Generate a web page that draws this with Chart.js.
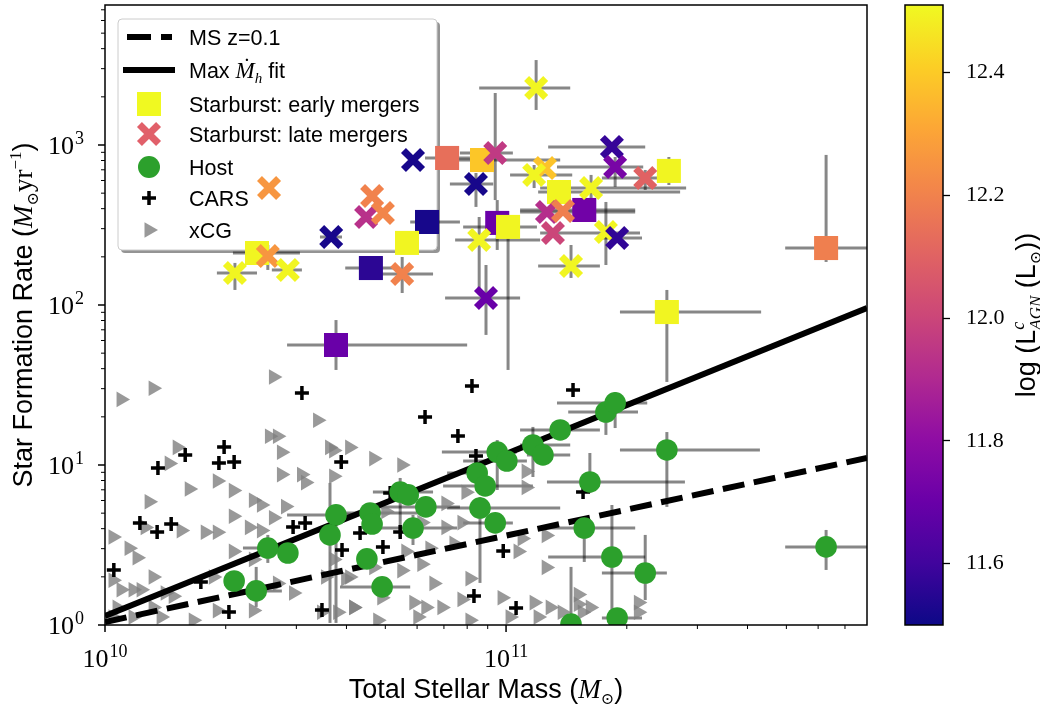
<!DOCTYPE html>
<html>
<head>
<meta charset="utf-8">
<script src="https://cdn.jsdelivr.net/npm/chart.js@4.4.0/dist/chart.umd.min.js"></script>
<style>
  html, body { margin: 0; padding: 0; background: #fff; }
  #wrap { position: relative; width: 1040px; height: 706px; }
  #main { position: absolute; left: 0; top: 0; }
  #cbar { position: absolute; left: 880px; top: 0; }
</style>
</head>
<body>
<div id="wrap">
  <canvas id="main" width="880" height="706" style="width:880px;height:706px"></canvas>
  <canvas id="cbar" width="160" height="706" style="width:160px;height:706px"></canvas>
</div>
<script>
'use strict';

// ---- values (log10 of stellar mass, SFR and L_AGN) ----

// Starburst: early mergers (squares)
const earlyLogM   = [10.853, 10.940, 10.803, 10.753, 10.379, 10.663, 10.576, 10.978, 11.005, 11.132, 11.195, 11.406, 11.401, 11.798];
const earlyLogSFR = [2.919, 2.906, 2.519, 2.388, 2.325, 2.231, 1.750, 2.513, 2.488, 2.706, 2.594, 2.838, 1.956, 2.356];
const earlyLogL   = [12.14, 12.39, 11.52, 12.50, 12.50, 11.56, 11.70, 11.70, 12.50, 12.50, 11.72, 12.50, 12.50, 12.19];
// [mass lo, mass hi, sfr lo, sfr hi]
const earlyErr = [
  [10.798, 10.910, null, null], [10.848, 11.135, null, null], [10.761, 10.885, null, null], null,
  [10.319, 10.486, null, null], [10.599, 10.723, null, null], [10.454, 10.903, 1.594, 1.906],
  [null, null, 2.344, 2.656], [10.893, 11.077, 1.594, 2.550], [11.080, 11.434, null, null],
  [11.035, 11.322, null, null], [null, null, 2.750, 2.925], [11.284, 11.636, 1.519, 2.094],
  [11.696, 11.980, 2.269, 2.938],
];

// Starburst: late mergers (X)
const lateLogM   = [11.075, 10.768, 10.973, 10.925, 11.097, 11.070, 11.264, 11.272, 11.347, 11.212, 11.102, 11.142, 11.117, 11.249,
                    11.277, 11.162, 10.933, 10.950, 10.409, 10.666, 10.651, 10.693, 10.564, 10.406, 10.324, 10.456, 10.741];
const lateLogSFR = [3.356, 2.906, 2.950, 2.756, 2.856, 2.813, 2.988, 2.863, 2.794, 2.731, 2.581, 2.588, 2.450, 2.456,
                    2.419, 2.244, 2.406, 2.044, 2.731, 2.681, 2.550, 2.575, 2.425, 2.306, 2.200, 2.219, 2.194];
const lateLogL   = [12.50, 11.52, 11.96, 11.52, 12.38, 12.50, 11.58, 11.74, 12.10, 12.50, 11.92, 12.19, 12.00, 12.50,
                    11.57, 12.50, 12.50, 11.70, 12.26, 12.20, 11.93, 12.21, 11.52, 12.26, 12.50, 12.50, 12.20];
const lateErr = [
  [10.933, 11.160, 3.219, 3.531], null, [10.885, 11.017, 2.656, 3.325], [10.860, 10.968, 2.613, 2.825], null,
  [11.010, 11.165, 2.731, 2.875], [11.105, 11.347, null, null], [11.127, 11.342, 2.738, 2.925],
  [11.239, 11.401, 2.719, 2.844], [11.085, 11.449, 2.656, 2.813], [11.035, 11.322, null, null], null,
  [11.085, 11.334, null, null], [null, null, 2.250, 2.644], [11.234, 11.339, null, null],
  [11.080, 11.234, 2.169, 2.375], [10.873, 11.085, 2.094, 2.550], [10.848, 11.035, 1.813, 2.250],
  null, null, null, null, [10.536, 10.591, null, null], [null, null, 2.219, 2.375],
  [10.279, 10.379, 2.094, 2.263], [10.416, 10.491, null, null], [10.686, 10.818, 2.075, 2.300],
];

// Host galaxies (green circles)
const hostLogM   = [10.576, 10.561, 10.406, 10.456, 10.322, 10.377, 10.661, 10.666, 10.736, 10.756, 10.800, 10.768, 10.653, 10.691,
                    10.928, 10.948, 10.935, 10.973, 10.978, 11.002, 11.067, 11.092, 11.135, 11.209, 11.195, 11.249, 11.272, 11.401,
                    11.264, 11.347, 11.277, 11.162, 11.798];
const hostLogSFR = [0.688, 0.563, 0.481, 0.450, 0.275, 0.213, 0.700, 0.631, 0.831, 0.813, 0.738, 0.606, 0.413, 0.238,
                    0.950, 0.869, 0.731, 0.638, 1.081, 1.025, 1.125, 1.063, 1.219, 0.894, 0.606, 1.331, 1.388, 1.094,
                    0.425, 0.325, 0.044, 0.006, 0.488];
const hostErr = [
  [10.454, 10.623, 0.013, 0.700], [null, null, 0.013, 0.888], [10.344, 10.441, 0.388, 0.563], null, null,
  [10.332, 10.441, 0.113, 0.363], [10.591, 10.810, null, null], null, [10.668, 10.818, 0.550, 0.919], null,
  [10.686, 10.885, null, null], [10.678, 10.878, 0.500, 0.688], null, [10.586, 10.761, null, null],
  [10.853, 10.953, null, null], [10.843, 11.067, null, null], [10.853, 11.135, 0.263, 0.800],
  [10.893, 11.017, null, null], [10.840, 11.027, 0.844, 1.156], [10.893, 11.052, null, null],
  [11.035, 11.160, 0.925, 1.238], [11.052, 11.160, null, null], [11.035, 11.234, null, null],
  [11.102, 11.446, 0.825, 1.075], [11.102, 11.322, 0.394, 0.675], [11.155, 11.329, 1.188, 1.344],
  [11.127, 11.352, 1.231, 1.456], [11.284, 11.633, 0.738, 1.206], [11.105, 11.347, 0.013, 0.750],
  [11.239, 11.401, 0.156, 0.563], [11.239, 11.339, null, null], [null, null, -0.100, 0.363],
  [11.696, 11.980, 0.344, 0.594],
];

// CARS (black plus)
const carsLogM   = [10.491, 10.297, 10.284, 10.322, 10.200, 10.132, 10.589, 10.087, 10.130, 10.165, 10.469, 10.499, 10.591, 10.022, 10.239,
                    10.309, 10.541, 10.915, 10.798, 10.880, 11.167, 10.925, 10.636, 10.736, 10.693, 10.993, 10.920, 11.025, 10.711, 11.192];
const carsLogSFR = [1.450, 1.113, 1.013, 1.019, 1.063, 0.981, 1.019, 0.638, 0.581, 0.631, 0.613, 0.638, 0.469, 0.344, 0.269,
                    0.081, 0.094, 1.494, 1.300, 1.181, 1.469, 1.056, 0.575, 0.581, 0.488, 0.463, 0.181, 0.106, 0.825, 0.831];

// xCG (grey triangles)
const xcgLogM = [10.04, 10.12, 10.42, 10.53, 10.41, 10.43, 10.18, 10.16, 10.44, 10.57, 10.61, 10.28, 10.32, 10.21, 10.44, 10.49, 10.50, 10.57,
                 10.11, 10.37, 10.39, 10.32, 10.45, 10.42, 10.02, 10.06, 10.08, 10.10, 10.19, 10.25, 10.28, 10.36, 10.39, 10.32, 10.37, 10.02,
                 10.04, 10.07, 10.09, 10.12, 10.15, 10.03, 10.12, 10.14, 10.17, 10.22, 10.28, 10.37, 10.47, 10.27, 10.55, 10.57, 10.61, 10.43,
                 10.54, 10.58, 10.62, 10.02, 10.07,
                 10.67, 10.74, 10.59, 10.70, 10.85, 10.90, 11.05, 11.05, 10.79, 10.85, 10.89, 11.04, 11.10, 10.75, 10.81, 10.87, 10.79, 10.74,
                 10.67, 10.60, 10.82, 10.91, 11.03, 11.10, 10.62, 10.69, 10.77, 10.80, 10.84, 10.89, 10.99, 11.07, 11.11, 11.18, 11.18, 10.68,
                 10.78, 10.91, 11.01, 11.08, 11.14, 11.19, 11.21, 11.33, 11.33, 10.56];
const xcgLogSFR = [1.41, 1.48, 1.55, 1.28, 1.18, 1.18, 1.11, 1.01, 1.08, 1.09, 1.11, 0.90, 0.84, 0.85, 0.94, 0.94, 0.89, 0.93,
                   0.77, 0.78, 0.75, 0.68, 0.74, 0.67, 0.55, 0.48, 0.42, 0.61, 0.59, 0.58, 0.58, 0.61, 0.59, 0.46, 0.41, 0.28,
                   0.22, 0.22, 0.22, 0.30, 0.20, 0.11, 0.11, 0.05, 0.18, 0.03, 0.09, 0.09, 0.20, 0.30, 0.30, 0.41, 0.30, 0.26,
                   0.08, 0.08, 0.11, 0.05, 0.05,
                   1.04, 1.00, 0.68, 0.71, 0.76, 0.83, 0.86, 0.96, 0.64, 0.61, 0.64, 0.54, 0.56, 0.46, 0.48, 0.51, 0.38, 0.34,
                   0.36, 0.29, 0.26, 0.29, 0.46, 0.36, 0.11, 0.17, 0.14, 0.11, 0.11, 0.16, 0.17, 0.14, 0.11, 0.19, 0.13, 0.03,
                   0.05, 0.03, 0.05, 0.05, 0.08, 0.08, 0.11, 0.14, 0.08, 1.11];

// Relations
const msLogM = [10, 11.9];
const msLogSFR = [0.019, 1.044];     // MS z=0.1
const fitLogM = [10, 11.9];
const fitLogSFR = [0.056, 1.981];    // Max Mdot_h fit

// Axes
const xLogRange = [10, 11.9];
const yLogRange = [0, 3.875];
const xTickPowers = [10, 11];
const yTickPowers = [0, 1, 2, 3];
const cbMin = 11.5, cbMax = 12.51;
const cbTicks = [11.6, 11.8, 12.0, 12.2, 12.4];

// plasma colormap
const PLASMA = ['#0d0887', '#41049d', '#6a00a8', '#8f0da4', '#b12a90', '#cc4778',
                '#e16462', '#f2844b', '#fca636', '#fcce25', '#f0f921'];

const SANS = '"Liberation Sans", Arial, Helvetica, sans-serif';
const SERIF = '"Liberation Serif", "DejaVu Serif", serif';

const pow10 = v => Math.pow(10, v);

function hexRgb(h) {
  return [1, 3, 5].map(i => parseInt(h.substr(i, 2), 16));
}
function plasma(v) {
  const t = Math.min(1, Math.max(0, (v - cbMin) / (cbMax - cbMin))) * (PLASMA.length - 1);
  const i = Math.min(PLASMA.length - 2, Math.floor(t));
  const f = t - i;
  const a = hexRgb(PLASMA[i]), b = hexRgb(PLASMA[i + 1]);
  const c = a.map((x, k) => Math.round(x + (b[k] - x) * f));
  return `rgb(${c[0]},${c[1]},${c[2]})`;
}

const pts = (lm, ls) => lm.map((m, i) => ({ x: pow10(m), y: pow10(ls[i]) }));

// rich text: parts {t, f, dy, adv}, centred on x, y = baseline
function rich(ctx, parts, x, y, rot) {
  ctx.save();
  ctx.translate(x, y);
  if (rot) ctx.rotate(rot);
  ctx.textBaseline = 'alphabetic';
  ctx.textAlign = 'left';
  ctx.fillStyle = '#000';
  let w = 0;
  const adv = parts.map(p => {
    ctx.font = p.f;
    const a = p.adv != null ? p.adv : ctx.measureText(p.t).width;
    w += a;
    return a;
  });
  let cx = -w / 2;
  parts.forEach((p, i) => {
    ctx.font = p.f;
    ctx.fillText(p.t, cx, p.dy || 0);
    cx += adv[i];
  });
  ctx.restore();
}

function point(ctx, style, r, bw, rot, x, y) {
  Chart.helpers.drawPoint(ctx, { pointStyle: style, radius: r, borderWidth: bw, rotation: rot || 0 }, x, y);
}

function drawLegend(ctx) {
  const bx = 118, by = 19, bw = 319, bh = 231;
  ctx.save();
  ctx.fillStyle = 'rgba(0,0,0,0.42)';
  ctx.beginPath(); ctx.roundRect(bx + 3, by + 3, bw, bh, 4); ctx.fill();
  ctx.fillStyle = '#fff';
  ctx.beginPath(); ctx.roundRect(bx, by, bw, bh, 4); ctx.fill();
  ctx.strokeStyle = '#cccccc'; ctx.lineWidth = 1; ctx.stroke();

  const rows = [37, 70, 104, 134, 167, 198, 230];
  ctx.strokeStyle = '#000';
  ctx.lineWidth = 6;
  ctx.setLineDash([24, 10]);
  ctx.beginPath(); ctx.moveTo(127, rows[0]); ctx.lineTo(172, rows[0]); ctx.stroke();
  ctx.setLineDash([]);
  ctx.beginPath(); ctx.moveTo(123, rows[1]); ctx.lineTo(175, rows[1]); ctx.stroke();

  const mx = 149;
  ctx.fillStyle = plasma(cbMax);
  point(ctx, 'rect', 17, 0, 0, mx, rows[2]);
  ctx.strokeStyle = '#e1606a'; ctx.lineWidth = 7;
  point(ctx, 'crossRot', 13.5, 7, 0, mx, rows[3]);
  ctx.fillStyle = '#2ca02c';
  point(ctx, 'circle', 11, 0, 0, mx, rows[4]);
  ctx.strokeStyle = '#000'; ctx.lineWidth = 3.5;
  point(ctx, 'cross', 7, 3.5, 0, mx, rows[5]);
  ctx.fillStyle = 'rgba(128,128,128,0.8)';
  point(ctx, 'triangle', 9, 0, 90, mx, rows[6]);

  const tf = `21.5px ${SANS}`;
  const tx = 189;
  const txt = (s, y) => { ctx.font = tf; ctx.fillStyle = '#000'; ctx.textAlign = 'left'; ctx.textBaseline = 'alphabetic'; ctx.fillText(s, tx, y + 8); };
  txt('MS z=0.1', rows[0]);
  ctx.font = tf;
  const w1 = ctx.measureText('Max ').width;
  ctx.fillText('Max ', tx, rows[1] + 8);
  ctx.font = `italic 23px ${SERIF}`;
  const w2 = ctx.measureText('\u1E40').width;
  ctx.fillText('\u1E40', tx + w1, rows[1] + 8);
  ctx.font = `italic 15px ${SERIF}`;
  const w3 = ctx.measureText('h').width;
  ctx.fillText('h', tx + w1 + w2, rows[1] + 13);
  ctx.font = tf;
  ctx.fillText(' fit', tx + w1 + w2 + w3, rows[1] + 8);
  txt('Starburst: early mergers', rows[2]);
  txt('Starburst: late mergers', rows[3]);
  txt('Host', rows[4]);
  txt('CARS', rows[5]);
  txt('xCG', rows[6]);
  ctx.restore();
}

const errGroups = [
  [hostLogM, hostLogSFR, hostErr],
  [earlyLogM, earlyLogSFR, earlyErr],
  [lateLogM, lateLogSFR, lateErr],
];

const underlay = {
  id: 'underlay',
  beforeDatasetsDraw(chart) {
    const { ctx, chartArea: a, scales: { x, y } } = chart;
    drawLegend(ctx);
    ctx.save();
    ctx.beginPath(); ctx.rect(a.left, a.top, a.width, a.height); ctx.clip();
    ctx.strokeStyle = 'rgba(0,0,0,0.47)';
    ctx.lineWidth = 3;
    const seg = (x0, y0, x1, y1) => { ctx.beginPath(); ctx.moveTo(x0, y0); ctx.lineTo(x1, y1); ctx.stroke(); };
    errGroups.forEach(([lm, ls, errs]) => errs.forEach((e, i) => {
      if (!e) return;
      const px = x.getPixelForValue(pow10(lm[i]));
      const py = y.getPixelForValue(pow10(ls[i]));
      if (e[0] != null) seg(x.getPixelForValue(pow10(e[0])), py, x.getPixelForValue(pow10(e[1])), py);
      if (e[2] != null) seg(px, y.getPixelForValue(pow10(e[2])), px, y.getPixelForValue(pow10(e[3])));
    }));
    ctx.restore();
  },
};

function sciLabel(ctx, exp, x, base, align) {
  const bf = `26px ${SERIF}`, ef = `18px ${SERIF}`;
  ctx.font = bf; const bw = ctx.measureText('10').width;
  ctx.font = ef; const ew = ctx.measureText(exp).width;
  const w = bw + 1 + ew;
  const x0 = align === 'right' ? x - w : x - w / 2;
  ctx.textAlign = 'left'; ctx.textBaseline = 'alphabetic'; ctx.fillStyle = '#000';
  ctx.font = bf; ctx.fillText('10', x0, base);
  ctx.font = ef; ctx.fillText(exp, x0 + bw + 1, base - 10);
}

const frameAxes = {
  id: 'frameAxes',
  afterDatasetsDraw(chart) {
    const { ctx, chartArea: a, scales: { x, y } } = chart;
    ctx.save();
    ctx.strokeStyle = '#000';
    const tick = (x0, y0, x1, y1, lw) => { ctx.lineWidth = lw; ctx.beginPath(); ctx.moveTo(x0, y0); ctx.lineTo(x1, y1); ctx.stroke(); };
    for (let e = Math.floor(xLogRange[0]); e <= Math.ceil(xLogRange[1]); e++) {
      for (let m = 1; m <= 9; m++) {
        const v = m * pow10(e);
        if (v < pow10(xLogRange[0]) || v > pow10(xLogRange[1]) * 1.0001) continue;
        const p = x.getPixelForValue(v);
        if (m === 1) tick(p, a.bottom, p, a.bottom + 7, 1.5);
        else tick(p, a.bottom, p, a.bottom + 4, 1);
      }
    }
    for (let e = Math.floor(yLogRange[0]); e <= Math.ceil(yLogRange[1]); e++) {
      for (let m = 1; m <= 9; m++) {
        const v = m * pow10(e);
        if (v < pow10(yLogRange[0]) || v > pow10(yLogRange[1])) continue;
        const p = y.getPixelForValue(v);
        if (m === 1) tick(a.left, p, a.left - 7, p, 1.5);
        else tick(a.left, p, a.left - 4, p, 1);
      }
    }
    ctx.lineWidth = 1.5;
    ctx.strokeRect(a.left, a.top, a.width, a.height);
    xTickPowers.forEach(e => sciLabel(ctx, String(e), x.getPixelForValue(pow10(e)), a.bottom + 42, 'center'));
    yTickPowers.forEach(e => sciLabel(ctx, String(e), a.left - 21, y.getPixelForValue(pow10(e)) + 9, 'right'));
    ctx.restore();
  },
  afterDraw(chart) {
    const { ctx, chartArea: a } = chart;
    const sf = `27px ${SANS}`;
    rich(ctx, [
      { t: 'Total Stellar Mass (', f: sf },
      { t: 'M', f: `italic 27px ${SERIF}` },
      { t: '\u2299', f: `16px ${SERIF}`, dy: 6 },
      { t: ')', f: sf },
    ], (a.left + a.right) / 2, 698);
    rich(ctx, [
      { t: 'Star Formation Rate (', f: sf },
      { t: 'M', f: `italic 27px ${SERIF}` },
      { t: '\u2299', f: `16px ${SERIF}`, dy: 6 },
      { t: 'yr', f: `27px ${SERIF}` },
      { t: '\u22121', f: `17px ${SERIF}`, dy: -11 },
      { t: ')', f: sf },
    ], 32, (a.top + a.bottom) / 2, -Math.PI / 2);
  },
};

new Chart(document.getElementById('main'), {
  type: 'scatter',
  data: {
    datasets: [
      {
        label: 'Starburst: late mergers', data: pts(lateLogM, lateLogSFR), order: 1, clip: 0,
        pointStyle: 'crossRot', pointRadius: 13.5, pointBorderWidth: 7,
        pointBorderColor: lateLogL.map(plasma), pointBackgroundColor: 'rgba(0,0,0,0)',
      },
      {
        label: 'Starburst: early mergers', data: pts(earlyLogM, earlyLogSFR), order: 2, clip: 0,
        pointStyle: 'rect', pointRadius: 17, pointBorderWidth: 0,
        pointBackgroundColor: earlyLogL.map(plasma),
      },
      {
        label: 'Host', data: pts(hostLogM, hostLogSFR), order: 3, clip: 0,
        pointStyle: 'circle', pointRadius: 10.8, pointBorderWidth: 0, pointBackgroundColor: '#2ca02c',
      },
      {
        label: 'Max Mh fit', type: 'line', data: pts(fitLogM, fitLogSFR), order: 4, clip: 0,
        showLine: true, borderColor: '#000', borderWidth: 6, pointRadius: 0, fill: false,
      },
      {
        label: 'MS z=0.1', type: 'line', data: pts(msLogM, msLogSFR), order: 5, clip: 0,
        showLine: true, borderColor: '#000', borderWidth: 6, borderDash: [22, 9.6], pointRadius: 0, fill: false,
      },
      {
        label: 'CARS', data: pts(carsLogM, carsLogSFR), order: 6, clip: 0,
        pointStyle: 'cross', pointRadius: 7, pointBorderWidth: 3.5, pointBorderColor: '#000',
      },
      {
        label: 'xCG', data: pts(xcgLogM, xcgLogSFR), order: 7, clip: 0,
        pointStyle: 'triangle', pointRotation: 90, pointRadius: 9, pointBorderWidth: 0,
        pointBackgroundColor: 'rgba(128,128,128,0.8)',
      },
    ],
  },
  options: {
    responsive: false,
    animation: false,
    devicePixelRatio: 1,
    events: [],
    layout: { autoPadding: false, padding: { top: 5, right: 13, left: 0, bottom: 0 } },
    plugins: { legend: { display: false }, tooltip: { enabled: false } },
    scales: {
      x: {
        type: 'logarithmic', min: pow10(xLogRange[0]), max: pow10(xLogRange[1]),
        grid: { display: false, drawTicks: false }, border: { display: false },
        ticks: { display: false },
        afterFit(s) { s.height = 81; },
      },
      y: {
        type: 'logarithmic', min: pow10(yLogRange[0]), max: pow10(yLogRange[1]),
        grid: { display: false, drawTicks: false }, border: { display: false },
        ticks: { display: false },
        afterFit(s) { s.width = 105; },
      },
    },
  },
  plugins: [underlay, frameAxes],
});

// ---- colour bar ----
const cbarDeco = {
  id: 'cbarDeco',
  afterDatasetsDraw(chart) {
    const { ctx, chartArea: a } = chart;
    ctx.save();
    ctx.strokeStyle = '#000'; ctx.lineWidth = 1.5;
    ctx.strokeRect(a.left, a.top, a.width, a.height);
    ctx.restore();
    const sf = `27px ${SANS}`;
    rich(ctx, [
      { t: 'log (L', f: sf },
      { t: 'c', f: `italic 18px ${SERIF}`, dy: -11, adv: 0 },
      { t: 'AGN', f: `italic 17px ${SERIF}`, dy: 6 },
      { t: ' (L', f: sf },
      { t: '\u2299', f: `16px ${SERIF}`, dy: 6 },
      { t: '))', f: sf },
    ], 155, (a.top + a.bottom) / 2, -Math.PI / 2);
  },
};

new Chart(document.getElementById('cbar'), {
  type: 'bar',
  data: {
    labels: [''],
    datasets: [{
      data: [[cbMin, cbMax]],
      borderWidth: 0,
      barPercentage: 1,
      categoryPercentage: 1,
      backgroundColor(c) {
        const { ctx, chartArea } = c.chart;
        if (!chartArea) return PLASMA[5];
        const g = ctx.createLinearGradient(0, chartArea.bottom, 0, chartArea.top);
        PLASMA.forEach((col, i) => g.addColorStop(i / (PLASMA.length - 1), col));
        return g;
      },
    }],
  },
  options: {
    responsive: false,
    animation: false,
    devicePixelRatio: 1,
    events: [],
    layout: { autoPadding: false, padding: { left: 25, top: 5, bottom: 81, right: 0 } },
    plugins: { legend: { display: false }, tooltip: { enabled: false } },
    scales: {
      x: { display: false },
      y: {
        position: 'right', min: cbMin, max: cbMax,
        afterBuildTicks(s) { s.ticks = cbTicks.map(v => ({ value: v })); },
        grid: { drawOnChartArea: false, drawTicks: true, tickLength: 7, tickColor: '#000', tickWidth: 1.3 },
        border: { display: false },
        ticks: { font: { family: SERIF, size: 22 }, color: '#000', padding: 16, callback: v => v.toFixed(1) },
        afterFit(s) { s.width = 97; s.paddingTop = 0; s.paddingBottom = 0; },
      },
    },
  },
  plugins: [cbarDeco],
});
</script>
</body>
</html>
